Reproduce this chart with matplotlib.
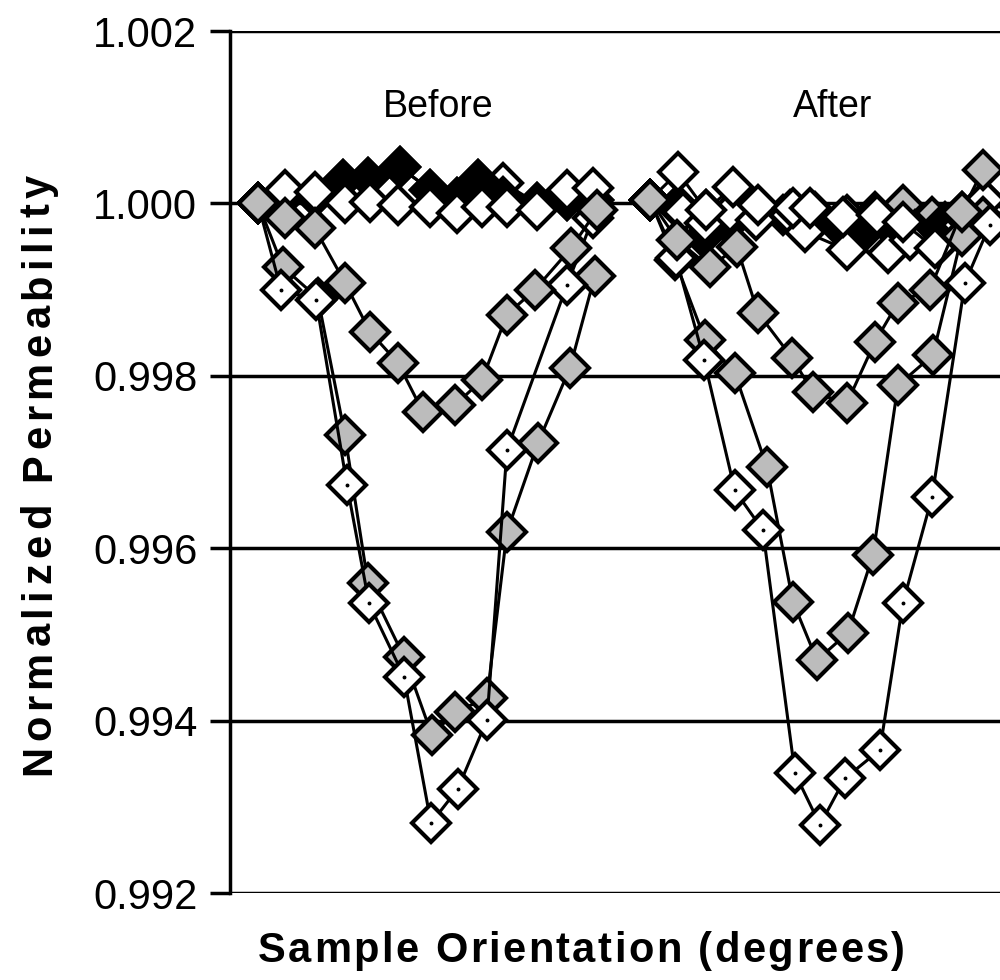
import matplotlib
matplotlib.use("Agg")
import matplotlib.pyplot as plt
from matplotlib.font_manager import FontProperties
from matplotlib.transforms import IdentityTransform

# ---------------- data (orientation in degrees, normalized permeability) -------------
yticks = [0.992, 0.994, 0.996, 0.998, 1.000, 1.002]
ytick_labels = ["0.992", "0.994", "0.996", "0.998", "1.000", "1.002"]

# Before
b_shallow_x = [0, 14.5, 30.5, 46.6, 60.0, 75.0, 88.4, 105.5, 120.0, 133.4, 148.4, 167.7, 181.6]
b_shallow_y = [1.00000, 0.99983, 0.99971, 0.99908, 0.99851, 0.99815, 0.99758, 0.99766, 0.99795, 0.99871, 0.99900, 0.99948, 0.99992]

b_deep_gray_x = [0, 13.4, 32.1, 46.6, 58.9, 78.2, 93.2, 105.5, 122.7, 133.4, 150.0, 167.1, 180.5]
b_deep_gray_y = [1.00000, 0.99926, 0.99890, 0.99731, 0.99560, 0.99474, 0.99383, 0.99410, 0.99426, 0.99619, 0.99722, 0.99809, 0.99916]

b_deep_white_x = [0, 12.3, 31.1, 47.7, 59.5, 78.2, 92.7, 107.1, 122.7, 133.4, 165.5, 179.5]
b_deep_white_y = [1.00000, 0.99900, 0.99888, 0.99673, 0.99536, 0.99451, 0.99281, 0.99321, 0.99401, 0.99714, 0.99905, 0.99983]

b_flat_white1_x = [0, 14.5, 30.5, 46.6, 60.0, 75.0, 92.1, 106.6, 120.0, 133.4, 149.5, 165.5, 179.5]
b_flat_white1_y = [1.00000, 1.00016, 1.00013, 1.00000, 1.00002, 0.99998, 0.99996, 0.99989, 0.99996, 0.99996, 0.99992, 1.00016, 1.00018]

b_flat_black_x = [0, 14.5, 30.5, 45.5, 58.9, 76.1, 92.1, 106.6, 117.9, 131.3, 149.5, 165.5, 179.5]
b_flat_black_y = [1.00000, 1.00007, 1.00008, 1.00027, 1.00029, 1.00042, 1.00016, 1.00006, 1.00027, 1.00007, 1.00000, 1.00004, 1.00004]

b_flat_white2_x = [0, 14.5, 30.5, 45.5, 58.9, 76.1, 92.1, 106.6, 117.9, 131.3, 149.5, 165.5, 179.5]
b_flat_white2_y = [1.00000, 1.00007, 1.00008, 1.00027, 1.00029, 1.00042, 1.00016, 1.00006, 1.00027, 1.00024, 1.00000, 1.00004, 1.00004]

# After
a_shallow_x = [210, 224.5, 242.1, 256.6, 267.9, 286.1, 297.3, 315.5, 330.5, 342.9, 360.0, 377.1, 388.4]
a_shallow_y = [1.00004, 0.99958, 0.99926, 0.99949, 0.99873, 0.99821, 0.99781, 0.99768, 0.99839, 0.99885, 0.99900, 0.99990, 1.00039]

a_deep_gray_x = [210, 223.4, 239.5, 255.5, 272.7, 286.6, 299.5, 316.1, 329.5, 342.9, 361.6, 377.1, 388.4]
a_deep_gray_y = [1.00004, 0.99934, 0.99842, 0.99803, 0.99694, 0.99538, 0.99470, 0.99502, 0.99592, 0.99789, 0.99824, 0.99962, 0.99984]

a_deep_white_x = [210, 223.9, 239.1, 255.5, 270.5, 287.7, 301.1, 314.5, 333.2, 345.5, 361.1, 378.8, 392.1]
a_deep_white_y = [1.00004, 0.99937, 0.99818, 0.99667, 0.99621, 0.99339, 0.99279, 0.99333, 0.99366, 0.99536, 0.99659, 0.99908, 0.99975]

a_flat_gray_x = [210, 225, 240, 255, 268.9, 285, 298.4, 315.5, 330.5, 345.5, 361.1, 377.1, 389.5]
a_flat_gray_y = [1.00004, 0.99998, 0.99992, 0.99990, 0.99992, 0.99992, 0.99990, 0.99986, 0.99990, 0.99998, 0.99984, 0.99990, 1.00004]

a_flat_black_x = [210, 223.9, 238.4, 251.8, 264.6, 281.25, 296.8, 311.8, 323.6, 337.5, 352.0, 368.0, 392.1]
a_flat_black_y = [1.00004, 0.99996, 0.99961, 0.99975, 0.99986, 0.99986, 0.99978, 0.99971, 0.99965, 0.99975, 0.99969, 0.99978, 0.99990]

a_flat_white1_x = [210, 225, 240, 254.5, 267.9, 286.6, 295.7, 313.4, 331.6, 345.5, 362.7, 377.1, 389.5]
a_flat_white1_y = [1.00004, 1.00036, 0.99992, 1.00019, 0.99998, 0.99995, 0.99995, 0.99984, 0.99986, 0.99978, 0.99948, 0.99986, 1.00004]

a_flat_white2_x = [210, 227.7, 239.5, 252.9, 266.8, 285.0, 293.0, 315.5, 337.5, 349.3, 363.8, 377.1, 389.5]
a_flat_white2_y = [1.00004, 0.99990, 0.99977, 0.99990, 0.99981, 0.99986, 0.99967, 0.99946, 0.99942, 0.99957, 0.99949, 0.99975, 0.99992]

labels_top = ["Before", "After"]
xlabel = "Sample Orientation (degrees)"
ylabel = "Normalized Permeability"

# ---------------- figure -------------
W, H = 1000, 980
fig = plt.figure(figsize=(W / 100, H / 100), dpi=100)
fig.patch.set_facecolor("white")

ax_left, ax_right = 230, 1040
ax_top, ax_bot = 31, 893
ax = fig.add_axes([ax_left / W, 1 - ax_bot / H, (ax_right - ax_left) / W, (ax_bot - ax_top) / H])
ax.set_xlim(-15, 419)
ax.set_ylim(0.992, 1.002)

GRAY = "#bcbcbc"
MS = 19.5
MEW = 3.0
LW = 2.2

def series(x, y, face, z, dots=False):
    ax.plot(x, y, color="black", lw=LW, marker="D", ms=MS, mfc=face, mec="black",
            mew=MEW, zorder=z, clip_on=True)
    if dots:
        ax.plot(x, y, ls="none", marker="o", ms=1.8, color="black", zorder=z + 0.01)

# Before
series(b_flat_white2_x, b_flat_white2_y, "white", 3)
series(b_flat_black_x, b_flat_black_y, "black", 4)
series(b_flat_white1_x, b_flat_white1_y, "white", 5)
series(b_deep_gray_x, b_deep_gray_y, GRAY, 6)
series(b_deep_white_x, b_deep_white_y, "white", 7, dots=True)
series(b_shallow_x, b_shallow_y, GRAY, 8)
# After
series(a_flat_gray_x, a_flat_gray_y, GRAY, 3)
series(a_flat_black_x, a_flat_black_y, "black", 4)
series(a_flat_white2_x, a_flat_white2_y, "white", 5)
series(a_flat_white1_x, a_flat_white1_y, "white", 5.5)
series(a_deep_gray_x, a_deep_gray_y, GRAY, 6)
series(a_deep_white_x, a_deep_white_y, "white", 7, dots=True)
series(a_shallow_x, a_shallow_y, GRAY, 8)

# grid / frame
for yv in yticks:
    ax.axhline(yv, color="black", lw=2.5, zorder=1)
for s in ["top", "right", "bottom"]:
    ax.spines[s].set_visible(False)
ax.spines["left"].set_linewidth(2.5)
ax.spines["left"].set_zorder(2)

ax.set_xticks([])
ax.set_yticks(yticks)
ax.set_yticklabels(ytick_labels)
ax.tick_params(axis="y", direction="out", length=14.5, width=2.5, pad=9,
               labelsize=30)
for t in ax.get_yticklabels():
    t.set_fontfamily("Liberation Sans")

# Before / After
fig.text(438, H - 117, labels_top[0], transform=IdentityTransform(), ha="center",
         va="baseline", fontsize=27, family="Liberation Sans")
fig.text(833, H - 117, labels_top[1], transform=IdentityTransform(), ha="center",
         va="baseline", fontsize=27, family="Liberation Sans")

# letter-spaced bold axis titles
renderer = fig.canvas.get_renderer()

def spaced(s, start, end, base, size, vertical=False):
    fp = FontProperties(family="Liberation Sans", weight="bold", size=size)
    def wd(t):
        return renderer.get_text_width_height_descent(t, fp, ismath=False)[0]
    ref = wd("x")
    offs = [0.0] + [wd(s[:i] + "x") - ref for i in range(1, len(s))]
    total = wd(s)
    gap = (end - start - total) / (len(s) - 1)
    for i, c in enumerate(s):
        if c == " ":
            continue
        p = start + offs[i] + i * gap
        if vertical:
            fig.text(base, p, c, transform=IdentityTransform(), fontproperties=fp,
                     rotation=90, rotation_mode="anchor", ha="left", va="baseline")
        else:
            fig.text(p, base, c, transform=IdentityTransform(), fontproperties=fp,
                     ha="left", va="baseline")

spaced(xlabel, 258, 905, H - 962, 30)
spaced(ylabel, H - 775, H - 175, 50, 30, vertical=True)

fig.savefig("out.png", dpi=100, facecolor="white")
